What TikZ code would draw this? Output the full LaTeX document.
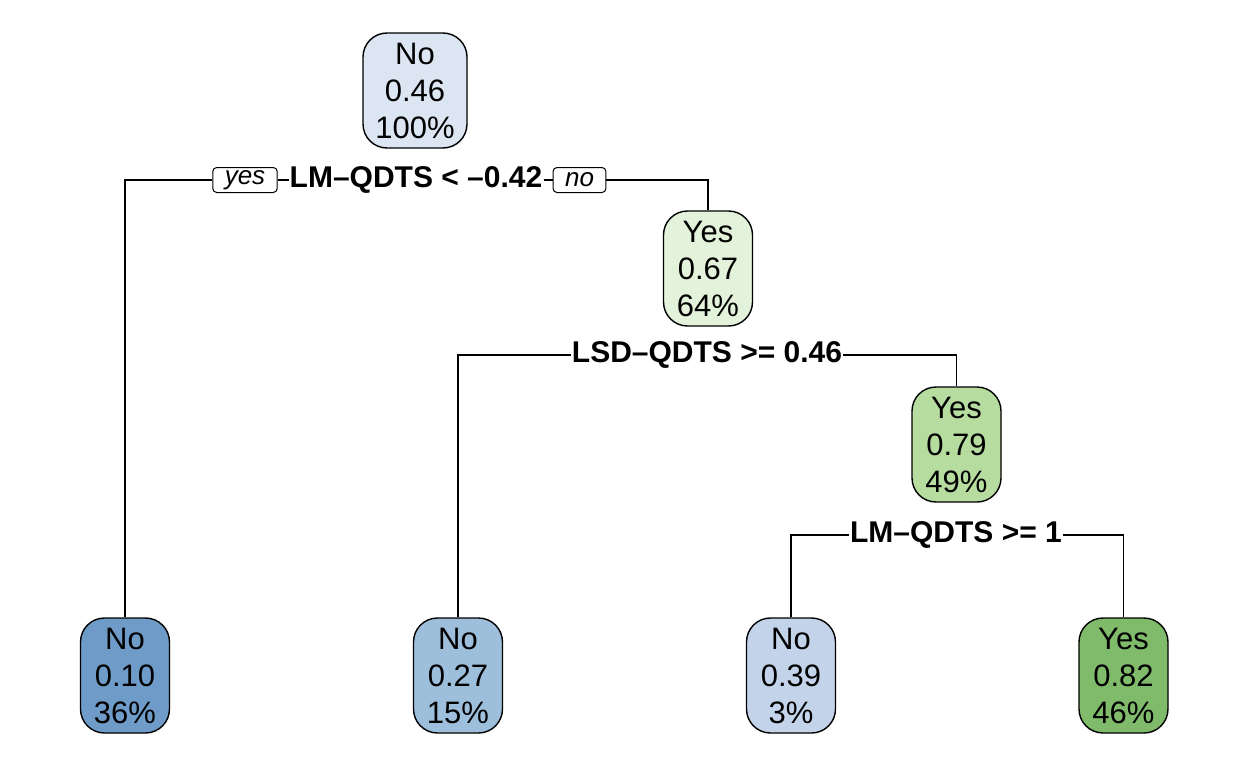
\documentclass[tikz,border=0pt]{standalone}
\usepackage{fontspec}
\setmainfont{Liberation Sans}
\usetikzlibrary{positioning}

\definecolor{rootblue}{RGB}{220,230,242}
\definecolor{leafblueA}{RGB}{110,155,200}
\definecolor{leafblueB}{RGB}{158,191,220}
\definecolor{leafblueC}{RGB}{195,212,234}
\definecolor{greenA}{RGB}{227,242,218}
\definecolor{greenB}{RGB}{182,220,160}
\definecolor{greenC}{RGB}{127,187,106}

\tikzset{
  treenode/.style={draw=black,line width=1.4pt,rounded corners=24pt,
    minimum width=89pt,minimum height=115pt,inner xsep=9pt,inner ysep=0pt,
    align=center,font=\fontsize{31}{37}\selectfont},
  splitlabel/.style={fill=white,inner sep=1pt,
    font=\fontsize{30}{32}\selectfont\bfseries},
  branchlabel/.style={draw=black,fill=white,line width=1pt,rounded corners=4pt,
    inner xsep=12pt,inner ysep=0pt,minimum height=25pt,
    font=\fontsize{26}{28}\selectfont\itshape},
  branch/.style={line width=1.3pt}
}

\begin{document}
\begin{tikzpicture}[x=1pt,y=-1pt]
\useasboundingbox (0,0) rectangle (1248,768);

% inner nodes
\node [treenode,fill=rootblue,minimum width=104pt] (n1) at (415,90.5) {No\\0.46\\100\%};
\node [treenode,fill=greenA] (n3) at (708,268.5) {Yes\\0.67\\64\%};
\node [treenode,fill=greenB] (n7) at (956.5,444.5) {Yes\\0.79\\49\%};

% leaves
\foreach \name/\x/\cls/\prob/\pct/\col in
  {n2/125/No/0.10/36/leafblueA,n6/458/No/0.27/15/leafblueB,
   n14/791/No/0.39/3/leafblueC,n15/1123.5/Yes/0.82/46/greenC}
  \node [treenode,fill=\col] (\name) at (\x,675.5) {\cls\\\prob\\\pct\%};

% splits
\node [splitlabel] (s1) at (416,180) {LM--QDTS < --0.42};
\node [branchlabel] (yes) at (245,180) {yes};
\node [branchlabel] (no) at (579.5,180) {no};
\node [splitlabel] (s3) at (707,355) {LSD--QDTS >= 0.46};
\node [splitlabel] (s7) at (956,535) {LM--QDTS >= 1};

\draw [branch] (yes.west) -| (n2.north);
\draw [branch] (yes.east) -- (s1.west);
\draw [branch] (s1.east) -- (no.west);
\draw [branch] (no.east) -| (n3.north);
\draw [branch] (s3.west) -| (n6.north);
\draw [branch] (s3.east) -| (n7.north);
\draw [branch] (s7.west) -| (n14.north);
\draw [branch] (s7.east) -| (n15.north);

\end{tikzpicture}
\end{document}
